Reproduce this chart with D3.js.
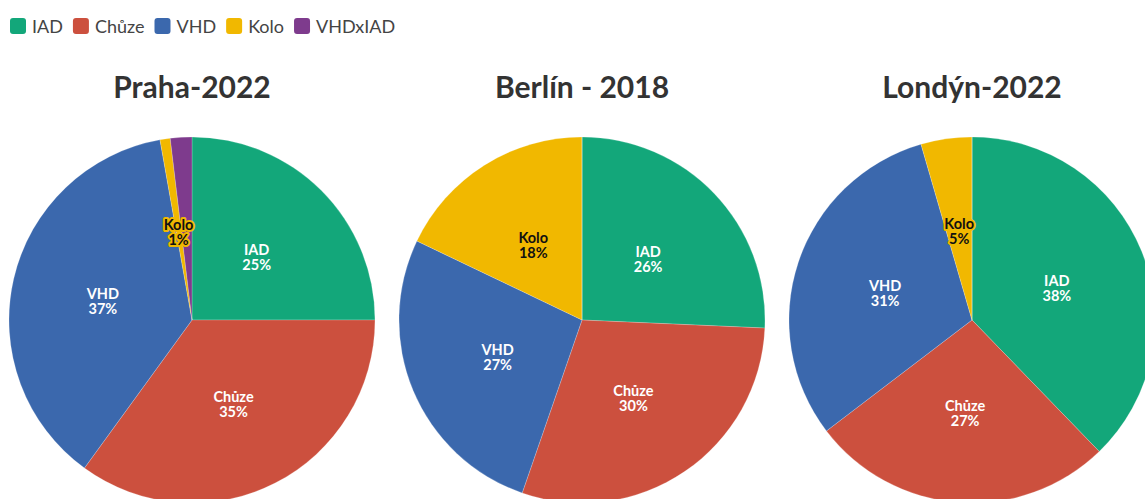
<!DOCTYPE html>
<html><head><meta charset="utf-8">
<script src="https://cdn.jsdelivr.net/npm/d3@7"></script>
<style>body{margin:0;background:#fff;overflow:hidden}svg{display:block}</style>
</head><body>
<script>
const categories = ["IAD", "Chůze", "VHD", "Kolo", "VHDxIAD"];
const colors = ["#13a77a", "#cc503e", "#3b68ad", "#f1b800", "#7e3b8d"];
const titles = ["Praha-2022", "Berlín - 2018", "Londýn-2022"];
const praha = [25, 35, 37.2, 0.9, 1.9];
const berlin = [25.7, 29.6, 26.8, 17.9, 0];
const londyn = [37.8, 26.9, 30.9, 4.5, 0];
const series = [praha, berlin, londyn];

const W = 1145, H = 499;
const svg = d3.select("body").append("svg").attr("width", W).attr("height", H);
const font = "'Source Sans Pro', Lato, 'Noto Sans', sans-serif";

// legend
const legend = svg.append("g");
let lx = 10;
categories.forEach((c, i) => {
  const g = legend.append("g").attr("transform", `translate(${lx},18)`);
  g.append("rect").attr("width", 16).attr("height", 16).attr("rx", 3).attr("fill", colors[i]);
  const t = g.append("text").attr("x", 22).attr("y", 14.5).attr("font-family", font)
    .attr("font-size", 18).attr("fill", "#444").text(c);
  lx += 22 + t.node().getComputedTextLength() + 10;
});

const xCenter = d3.scalePoint().domain(titles).range([192, 972]);
const R = 183, cy = 320;
const pie = d3.pie().sort(null).value(d => d);
const arc = d3.arc().innerRadius(0).outerRadius(R);
const labelArc = d3.arc().innerRadius(R * 0.5).outerRadius(R * 0.5);

titles.forEach((title, k) => {
  const cx = xCenter(title);
  svg.append("text").attr("x", cx).attr("y", 98).attr("text-anchor", "middle")
    .attr("font-family", font).attr("font-weight", 700).attr("font-size", 30)
    .attr("fill", "#333").text(title);
  const g = svg.append("g").attr("transform", `translate(${cx},${cy})`);
  const arcs = pie(series[k]);
  g.selectAll("path").data(arcs).join("path")
    .attr("d", arc).attr("fill", (d, i) => colors[i])
    .attr("stroke", "#fff").attr("stroke-width", 0.4).attr("stroke-opacity", 0.5);
  arcs.forEach((d, i) => {
    if (d.value === 0) return;
    if (i === 4) return;
    const [x, y] = labelArc.centroid(d);
    const isKolo = i === 3;
    const lines = [categories[i], Math.round(d.value) + "%"];
    const txt = g.append("text").attr("text-anchor", "middle")
      .attr("font-family", font).attr("font-weight", 700).attr("font-size", 14.5);
    lines.forEach((l, j) => {
      txt.append("tspan").attr("x", x).attr("y", y + j * 15).text(l);
    });
    if (isKolo) {
      txt.attr("fill", "#111").attr("stroke", colors[3]).attr("stroke-width", 4)
        .attr("stroke-linejoin", "round").attr("paint-order", "stroke");
    } else {
      txt.attr("fill", "#fff");
    }
  });
});
</script>
</body></html>
